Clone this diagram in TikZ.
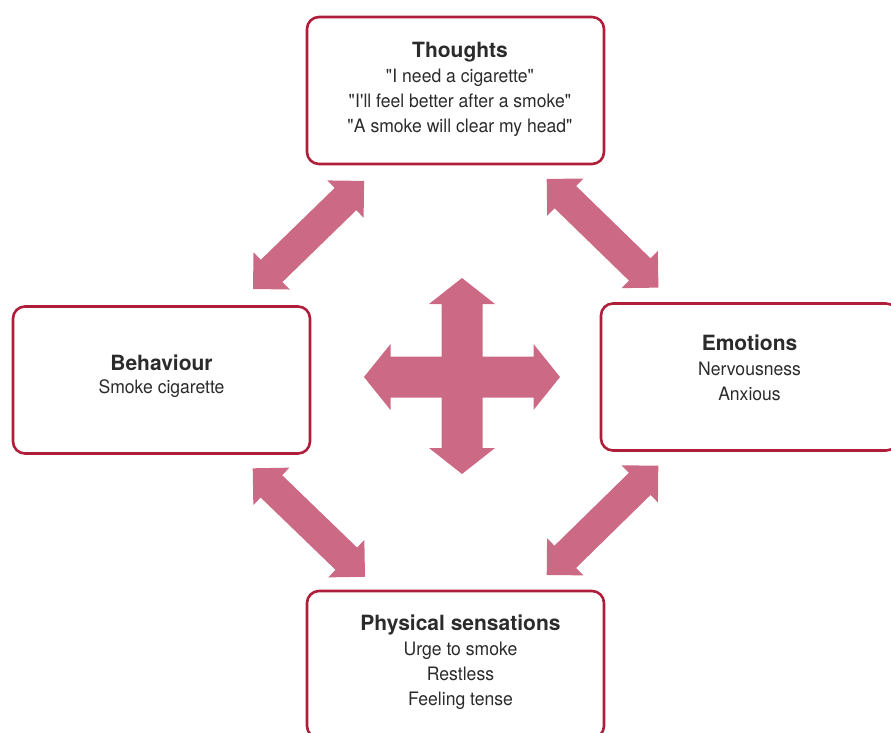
\documentclass[tikz,border=0pt]{standalone}
\usepackage{fontspec}
\setmainfont{TeX Gyre Heros}[FakeStretch=0.95]
\newfontfamily\headfont{TeX Gyre Heros}
\usepackage{tikz}
\usetikzlibrary{calc}

\definecolor{boxred}{HTML}{AE1E3A}
\definecolor{arrowpink}{HTML}{CC6A85}
\definecolor{inkgray}{HTML}{2B2B2B}

\tikzset{
	panel/.style={draw=boxred, line width=2.6pt, rounded corners=12pt,
		minimum width=297pt, minimum height=147pt, inner sep=0pt},
	paneltext/.style={anchor=north, align=center, inner sep=0pt, text=inkgray,
		font=\fontsize{18.5}{25}\selectfont}
}
\newcommand{\paneltitle}[1]{{\headfont\bfseries\fontsize{21}{25}\selectfont #1}}
\newcommand{\qt}[1]{\textquotedbl#1\textquotedbl}
% #1 start tip, #2 angle, #3 length, #4 half shaft, #5 half head, #6 head length
\newcommand{\twoway}[6]{%
	\fill[arrowpink, shift={#1}, rotate=#2] (0,0) -- (#6,#5) -- (#6,#4) -- ({#3-#6},#4)
		-- ({#3-#6},#5) -- (#3,0) -- ({#3-#6},-#5) -- ({#3-#6},-#4) -- (#6,-#4)
		-- (#6,-#5) -- cycle;}

\begin{document}
\begin{tikzpicture}[x=1pt, y=-1pt]
		\useasboundingbox (0,0) rectangle (891,733);
		\clip (0,0) rectangle (891,733);
		%----------------------------------------------------
		% The four boxes
		%----------------------------------------------------
		\node[panel] (thoughts) at (455.5,90.5) {};
		\node[panel] (behaviour) at (161.5,380) {};
		\node[panel] (emotions) at (749.5,377) {};
		\node[panel] (physical) at (455.5,664.5) {};
		
		\node[paneltext] (thoughtstext) at (460,42) {\paneltitle{Thoughts}\\\qt{I need a cigarette}\\\qt{I\textquotesingle ll feel better after a smoke}\\\qt{A smoke will clear my head}};
		\node[paneltext] (behaviourtext) at (161.5,355) {\paneltitle{Behaviour}\\[-2pt]Smoke cigarette};
		\node[paneltext] (emotionstext) at (749.5,335) {\paneltitle{Emotions}\\Nervousness\\Anxious};
		\node[paneltext] (physicaltext) at (460.5,615) {\paneltitle{Physical sensations}\\Urge to smoke\\Restless\\Feeling tense};
		
		%----------------------------------------------------
		% Two-way arrows between the boxes
		%----------------------------------------------------
		\twoway{(253,289)}{44.2}{155}{15.5}{26}{26}
		\twoway{(546.7,179)}{-44.2}{155.8}{15.5}{26}{26}
		\twoway{(252.7,468.3)}{-44}{156.1}{15.5}{26}{26}
		\twoway{(658.3,465.7)}{-135.6}{156.2}{15.5}{26}{26}
		
		%----------------------------------------------------
		% The cross in the middle
		%----------------------------------------------------
		\twoway{(364,377)}{0}{196}{20.5}{33}{26.5}
		\twoway{(462,474)}{90}{196}{20.5}{33}{26}
		
		%\draw (thoughts) -- (physical);
	\end{tikzpicture}
\end{document}
